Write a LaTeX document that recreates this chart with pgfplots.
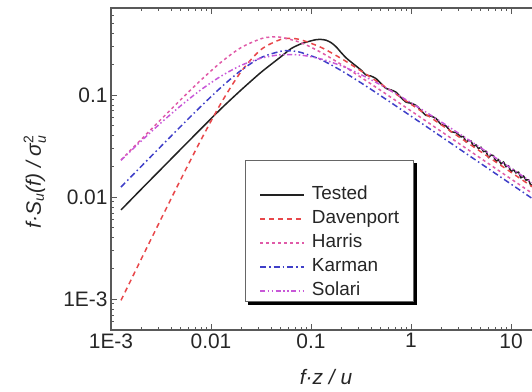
\documentclass[border=0pt]{standalone}
\usepackage{fontspec}
\setmainfont{Liberation Sans}
\usepackage{pgfplots}
\pgfplotsset{compat=1.18}
\definecolor{cDav}{HTML}{E8474A}
\definecolor{cHar}{HTML}{E05AA8}
\definecolor{cKar}{HTML}{3F3FC8}
\definecolor{cSol}{HTML}{C858D8}
\definecolor{cTes}{HTML}{222222}

\pgfplotstableread{
f S
0.001259 0.0075
0.001995 0.0119
0.003162 0.0188
0.005012 0.0297
0.007943 0.0468
0.01259 0.0735
0.01995 0.112
0.03162 0.167
0.05012 0.238
0.0631 0.285
0.07943 0.318
0.1 0.340
0.1122 0.349
0.1259 0.351
0.1413 0.345
0.1585 0.327
0.1778 0.298
0.1995 0.262
0.2239 0.232
0.2512 0.211
0.2818 0.193
0.3162 0.176
0.3548 0.1576
0.3981 0.1537
0.4467 0.1451
0.5012 0.1299
0.5623 0.1163
0.6310 0.1123
0.7079 0.1070
0.7943 0.0947
0.8913 0.0854
1.0 0.0833
1.122 0.0793
1.259 0.0707
1.413 0.0633
1.585 0.0622
1.778 0.0590
1.995 0.0516
2.239 0.0498
2.512 0.0438
2.818 0.0430
3.162 0.0390
3.350 0.0393
3.548 0.0349
3.758 0.0360
3.981 0.0355
4.217 0.0315
4.467 0.0325
4.732 0.0299
5.012 0.0308
5.309 0.0280
5.623 0.0282
5.957 0.0245
6.310 0.0259
6.683 0.0255
7.079 0.0224
7.499 0.0233
7.943 0.0212
8.414 0.0221
8.913 0.0199
9.441 0.0203
10.0 0.0178
10.59 0.0186
11.22 0.0173
11.89 0.0176
12.59 0.0155
13.34 0.0161
14.13 0.0147
14.96 0.0148
15.85 0.0130
16.79 0.0136
17.78 0.0125
18.84 0.0127
19.95 0.0113
}\tested

\pgfplotstableread{
f S
0.001259 0.000976
0.001995 0.002446
0.003162 0.006105
0.005012 0.01509
0.007943 0.03642
0.01259 0.0832
0.01995 0.1691
0.03162 0.2793
0.05012 0.352
0.0631 0.3589
0.07943 0.3477
0.1259 0.2935
0.1995 0.2291
0.3162 0.1726
0.5012 0.1282
0.7943 0.0947
1.259 0.0699
1.995 0.0514
3.162 0.0378
5.012 0.0278
7.943 0.02046
12.59 0.01505
19.95 0.01107
}\davenport

\pgfplotstableread{
f S
0.001259 0.02315
0.001995 0.03663
0.003162 0.0578
0.005012 0.0908
0.007943 0.1404
0.01259 0.2098
0.01995 0.2917
0.03162 0.3567
0.03981 0.3703
0.05012 0.3683
0.07943 0.3263
0.1259 0.262
0.1995 0.2001
0.3162 0.1494
0.5012 0.1106
0.7943 0.0816
1.259 0.0601
1.995 0.0442
3.162 0.03254
5.012 0.02393
7.943 0.0176
12.59 0.01296
19.95 0.00953
}\harris

\pgfplotstableread{
f S
0.001259 0.01258
0.001995 0.01993
0.003162 0.0315
0.005012 0.04966
0.007943 0.07764
0.01259 0.119
0.01995 0.1743
0.03162 0.2330
0.05012 0.2689
0.0631 0.2706
0.07943 0.2616
0.1259 0.2222
0.1995 0.1744
0.3162 0.1319
0.5012 0.0981
0.7943 0.0725
1.259 0.0534
1.995 0.03934
3.162 0.02894
5.012 0.02130
7.943 0.01567
12.59 0.01153
19.95 0.00848
}\karman

\pgfplotstableread{
f S
0.001259 0.02296
0.001995 0.03532
0.003162 0.05349
0.005012 0.07904
0.007943 0.1128
0.01259 0.1532
0.01995 0.1952
0.03162 0.2299
0.05012 0.2485
0.07943 0.2463
0.1259 0.2258
0.1995 0.1941
0.3162 0.1586
0.5012 0.1253
0.7943 0.0965
1.259 0.0731
1.995 0.0548
3.162 0.0408
5.012 0.0303
7.943 0.02236
12.59 0.0165
19.95 0.01217
}\solari

\newcommand{\smallit}[1]{\mbox{\fontsize{14}{14}\selectfont\itshape #1}}
\newcommand{\smallup}[1]{\mbox{\fontsize{14}{14}\selectfont\upshape #1}}

\begin{document}
\begin{tikzpicture}[font=\fontsize{21}{25}\selectfont]
\begin{axis}[
 xmode=log, ymode=log,
 scale only axis, width=430.1bp, height=322bp,
 xmin=1e-3, xmax=20, ymin=5e-4, ymax=0.713,
 xtick={0.001,0.01,0.1,1,10}, xticklabels={1E-3,0.01,0.1,1,10},
 ytick={0.001,0.01,0.1}, yticklabels={1E-3,0.01,0.1},
 minor xtick={0.002,0.003,0.004,0.005,0.006,0.007,0.008,0.009,0.02,0.03,0.04,0.05,0.06,0.07,0.08,0.09,0.2,0.3,0.4,0.5,0.6,0.7,0.8,0.9,2,3,4,5,6,7,8,9,20},
 minor ytick={0.0006,0.0007,0.0008,0.0009,0.002,0.003,0.004,0.005,0.006,0.007,0.008,0.009,0.02,0.03,0.04,0.05,0.06,0.07,0.08,0.09,0.2,0.3,0.4,0.5,0.6,0.7},
 tick align=inside,
 major tick length=6bp, minor tick length=3.5bp,
 axis line style={color=black!65, line width=1.6bp},
 every tick/.style={color=black!65, line width=0.9bp},
 tick label style={font=\fontsize{21}{25}\selectfont, color=black!85},
 label style={font=\fontsize{21}{25}\selectfont, color=black!85},
 xlabel={\itshape f\textperiodcentered z / u},
 ylabel={\itshape f\textperiodcentered S$_{\smallit{u}}$(f) / σ$_{\smallit{u}}^{\smallup{2}}$},
 xlabel style={at={(axis description cs:0.5,-0.146)}, anchor=center},
 ylabel style={at={(axis description cs:-0.177,0.46)}, anchor=center},
 legend cell align=left,
 legend style={name=leg, at={(0.3116,0.528)}, anchor=north west, draw=black!60, line width=0.8bp, fill=white,
   inner xsep=14bp, inner ysep=2bp, row sep=7bp,
   nodes={inner sep=0pt, text height=13bp, text depth=4bp, font=\fontsize{19}{22}\selectfont, text=black!85}},
 legend image code/.code={\draw[#1] (0bp,0bp) -- (44bp,0bp); \path (51bp,0bp);},
]
\coordinate (SW) at (rel axis cs:0,0);
\addlegendimage{empty legend}
\addlegendentry{}
\addplot[cTes, line width=1.5bp, smooth, tension=0.4] table[x=f,y=S]{\tested};
\addlegendentry{Tested}
\addplot[cDav, line width=1.5bp, smooth, dash pattern=on 5bp off 4bp] table[x=f,y=S]{\davenport};
\addlegendentry{Davenport}
\addplot[cHar, line width=1.5bp, smooth, dash pattern=on 3bp off 3bp] table[x=f,y=S]{\harris};
\addlegendentry{Harris}
\addplot[cKar, line width=1.5bp, smooth, dash pattern=on 6bp off 3bp on 1.5bp off 3bp] table[x=f,y=S]{\karman};
\addlegendentry{Karman}
\addplot[cSol, line width=1.5bp, smooth, dash pattern=on 5bp off 2.5bp on 1.5bp off 2.5bp on 1.5bp off 2.5bp] table[x=f,y=S]{\solari};
\addlegendentry{Solari}
\end{axis}
\fill[black] ([shift={(0.4bp,-3bp)}]leg.north east) rectangle ([shift={(3.5bp,-3.5bp)}]leg.south east);
\fill[black] ([shift={(3bp,-0.4bp)}]leg.south west) rectangle ([shift={(3.5bp,-3.5bp)}]leg.south east);
\pgfresetboundingbox
\path ([shift={(-111bp,-62bp)}]SW) rectangle ++(532bp,392bp);
\end{tikzpicture}
\end{document}
